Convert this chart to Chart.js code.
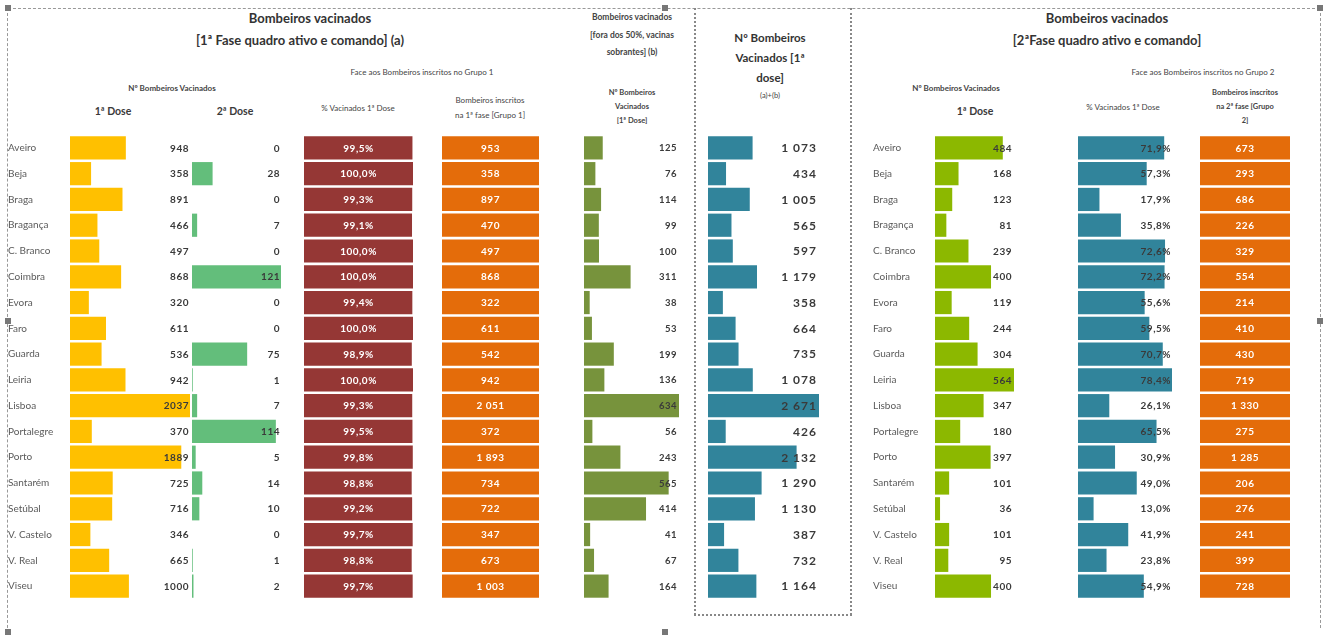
<!DOCTYPE html>
<html>
<head>
<meta charset="utf-8">
<script src="https://cdn.jsdelivr.net/npm/chart.js@4/dist/chart.umd.min.js"></script>
<style>
  body { margin: 0; background: #fff; font-family: Lato, "Open Sans", sans-serif; color: #3a3a3a; }
  #wrap { position: relative; width: 1327px; height: 635px; overflow: hidden; }
  .t { position: absolute; white-space: nowrap; transform: translate(-50%, -50%); line-height: 1; }
  .b { font-weight: 700; }
  .h1 { font-size: 13px; font-weight: 700; color: #333; }
  .h2 { font-size: 11.5px; font-weight: 700; color: #333; }
  .s { font-size: 8px; color: #444; }
  .sb { font-size: 8px; font-weight: 700; color: #444; }
  canvas { position: absolute; }
  .dh { position: absolute; height: 0; border-top: 1px dashed #999; }
  .dv { position: absolute; width: 0; border-left: 1px dashed #999; }
  .dv2 { position: absolute; width: 0; border-left: 2px dotted #888; }
  .dh2 { position: absolute; height: 0; border-top: 2px dotted #888; }
  .hd { position: absolute; width: 6px; height: 6px; background: #777; }
</style>
</head>
<body>
<div id="wrap">
  <!-- borders -->
  <div class="dh" style="left:8px;top:8px;width:1312px"></div>
  <div class="dv" style="left:7px;top:8px;height:625px"></div>
  <div class="dv" style="left:1320px;top:8px;height:620px"></div>
  <div class="dv2" style="left:694px;top:8px;height:607px"></div>
  <div class="dv2" style="left:850px;top:8px;height:607px"></div>
  <div class="dh2" style="left:694px;top:614px;width:158px"></div>
  <div class="hd" style="left:5px;top:5px"></div>
  <div class="hd" style="left:662px;top:5px"></div>
  <div class="hd" style="left:1317px;top:5px"></div>
  <div class="hd" style="left:5px;top:318px"></div>
  <div class="hd" style="left:1317px;top:318px"></div>
  <div class="hd" style="left:662px;top:629px"></div>
  <div class="hd" style="left:5px;top:629px"></div>

  <!-- headers fase 1 -->
  <div class="t h1" style="left:310px;top:18px">Bombeiros vacinados</div>
  <div class="t h1" style="left:300px;top:40px">[1ª Fase quadro ativo e comando] (a)</div>
  <div class="t s" style="left:422px;top:72px">Face aos Bombeiros inscritos no Grupo 1</div>
  <div class="t sb" style="left:172px;top:88px">Nº Bombeiros Vacinados</div>
  <div class="t b" style="left:113px;top:111px;font-size:10.5px">1ª Dose</div>
  <div class="t b" style="left:235px;top:111px;font-size:10.5px">2ª Dose</div>
  <div class="t s" style="left:358px;top:108px">% Vacinados 1ª Dose</div>
  <div class="t s" style="left:490px;top:100px">Bombeiros inscritos</div>
  <div class="t s" style="left:490px;top:115px">na 1ª fase [Grupo 1]</div>

  <!-- headers (b) -->
  <div class="t sb" style="left:632px;top:17px;font-size:8.5px">Bombeiros vacinados</div>
  <div class="t sb" style="left:632px;top:35px;font-size:8.5px">[fora dos 50%, vacinas</div>
  <div class="t sb" style="left:632px;top:52px;font-size:8.5px">sobrantes] (b)</div>
  <div class="t sb" style="left:632px;top:93px;font-size:7.5px">Nº Bombeiros</div>
  <div class="t sb" style="left:632px;top:107px;font-size:7.5px">Vacinados</div>
  <div class="t sb" style="left:632px;top:121px;font-size:7.5px">[1ª Dose]</div>

  <!-- headers (a)+(b) -->
  <div class="t h2" style="left:770px;top:38px">Nº Bombeiros</div>
  <div class="t h2" style="left:770px;top:58px">Vacinados [1ª</div>
  <div class="t h2" style="left:770px;top:78px">dose]</div>
  <div class="t s" style="left:770px;top:96px;font-size:7.5px">(a)+(b)</div>

  <!-- headers fase 2 -->
  <div class="t h1" style="left:1107px;top:18px">Bombeiros vacinados</div>
  <div class="t h1" style="left:1107px;top:40px">[2ªFase quadro ativo e comando]</div>
  <div class="t s" style="left:1203px;top:72px">Face aos Bombeiros inscritos no Grupo 2</div>
  <div class="t sb" style="left:956px;top:88px">Nº Bombeiros Vacinados</div>
  <div class="t b" style="left:975px;top:111px;font-size:10.5px">1ª Dose</div>
  <div class="t s" style="left:1123px;top:107px">% Vacinados 1ª Dose</div>
  <div class="t sb" style="left:1245px;top:93px;font-size:7.5px">Bombeiros inscritos</div>
  <div class="t sb" style="left:1245px;top:107px;font-size:7.5px">na 2ª fase [Grupo</div>
  <div class="t sb" style="left:1245px;top:121px;font-size:7.5px">2]</div>

  <canvas id="c1"></canvas>
  <canvas id="c2"></canvas>
  <canvas id="c3"></canvas>
  <canvas id="c4"></canvas>
  <canvas id="c5"></canvas>
  <canvas id="c6"></canvas>
  <canvas id="c7"></canvas>
  <canvas id="c8"></canvas>
  <canvas id="c9"></canvas>
</div>

<script>
// dados
const distritos = ['Aveiro', 'Beja', 'Braga', 'Bragança', 'C. Branco', 'Coimbra', 'Evora', 'Faro', 'Guarda',
  'Leiria', 'Lisboa', 'Portalegre', 'Porto', 'Santarém', 'Setúbal', 'V. Castelo', 'V. Real', 'Viseu'];

// 1ª fase (a)
const dose1Fase1 = [948, 358, 891, 466, 497, 868, 320, 611, 536, 942, 2037, 370, 1889, 725, 716, 346, 665, 1000];
const dose2Fase1 = [0, 28, 0, 7, 0, 121, 0, 0, 75, 1, 7, 114, 5, 14, 10, 0, 1, 2];
const pctFase1 = [99.5, 100.0, 99.3, 99.1, 100.0, 100.0, 99.4, 100.0, 98.9, 100.0, 99.3, 99.5, 99.8, 98.8, 99.2, 99.7, 98.8, 99.7];
const inscritosG1 = [953, 358, 897, 470, 497, 868, 322, 611, 542, 942, 2051, 372, 1893, 734, 722, 347, 673, 1003];

// vacinas sobrantes (b)
const sobrantes = [125, 76, 114, 99, 100, 311, 38, 53, 199, 136, 634, 56, 243, 565, 414, 41, 67, 164];

// (a)+(b)
const totalAB = [1073, 434, 1005, 565, 597, 1179, 358, 664, 735, 1078, 2671, 426, 2132, 1290, 1130, 387, 732, 1164];

// 2ª fase
const dose1Fase2 = [484, 168, 123, 81, 239, 400, 119, 244, 304, 564, 347, 180, 397, 101, 36, 101, 95, 400];
const pctFase2 = [71.9, 57.3, 17.9, 35.8, 72.6, 72.2, 55.6, 59.5, 70.7, 78.4, 26.1, 65.5, 30.9, 49.0, 13.0, 41.9, 23.8, 54.9];
const inscritosG2 = [673, 293, 686, 226, 329, 554, 214, 410, 430, 719, 1330, 275, 1285, 206, 276, 241, 399, 728];

const sep = v => String(v).replace(/\B(?=(\d{3})+(?!\d))/g, ' ');
const plain = v => String(v);
const pct = v => v.toFixed(1).replace('.', ',') + '%';

const cellLabels = {
  id: 'cellLabels',
  afterDatasetsDraw(chart, args, o) {
    if (!o.values) return;
    const { ctx, chartArea } = chart;
    const meta = chart.getDatasetMeta(0);
    ctx.save();
    ctx.font = o.font;
    ctx.fillStyle = o.color;
    ctx.textBaseline = 'middle';
    if ('letterSpacing' in ctx) ctx.letterSpacing = o.spacing || '0px';
    meta.data.forEach((bar, i) => {
      let x;
      if (o.align === 'center') {
        ctx.textAlign = 'center';
        x = (chartArea.left + chartArea.right) / 2;
      } else {
        ctx.textAlign = 'right';
        x = chartArea.right - (o.pad || 1);
      }
      ctx.fillText(o.format(o.values[i]), x, bar.y + 0.5);
    });
    ctx.restore();
  }
};
Chart.register(cellLabels);

const TOP = 135, HEIGHT = 464;

function coluna(id, left, width, data, max, cor, labels, withNames) {
  const cv = document.getElementById(id);
  cv.width = width; cv.height = HEIGHT;
  cv.style.left = left + 'px'; cv.style.top = TOP + 'px';
  cv.style.width = width + 'px'; cv.style.height = HEIGHT + 'px';
  return new Chart(cv.getContext('2d'), {
    type: 'bar',
    data: {
      labels: distritos,
      datasets: [{
        data: data,
        backgroundColor: cor,
        borderWidth: 0,
        barPercentage: 0.9,
        categoryPercentage: 1
      }]
    },
    options: {
      indexAxis: 'y',
      responsive: false,
      animation: false,
      devicePixelRatio: 1,
      layout: { padding: 0 },
      plugins: {
        legend: { display: false },
        tooltip: { enabled: false },
        cellLabels: labels
      },
      scales: {
        x: { display: false, min: 0, max: max },
        y: withNames ? {
          display: true,
          grid: { display: false },
          border: { display: false },
          ticks: { color: '#5a5a5a', font: { family: 'Lato', size: 10 }, crossAlign: 'far', padding: 0 },
          afterFit: s => { s.width = 62; s.paddingTop = 0; s.paddingBottom = 0; }
        } : { display: false }
      }
    }
  });
}

const numFont = 'bold 10px Lato';
const dark = '#3a3a3a';

coluna('c1', 8, 182, dose1Fase1, Math.max(...dose1Fase1), '#FFC000',
  { values: dose1Fase1, format: plain, font: numFont, color: dark, spacing: '0.5px' }, true);
coluna('c2', 192, 89, dose2Fase1, Math.max(...dose2Fase1), '#63BE7B',
  { values: dose2Fase1, format: plain, font: numFont, color: dark, spacing: '0.5px' }, false);
coluna('c3', 304, 109, pctFase1, 100, '#953735',
  { values: pctFase1, format: pct, font: numFont, color: '#fff', align: 'center', spacing: '0.5px' }, false);
coluna('c4', 442, 97, inscritosG1.map(() => 1), 1, '#E46C0A',
  { values: inscritosG1, format: sep, font: numFont, color: '#fff', align: 'center', spacing: '0.5px' }, false);
coluna('c5', 584, 95, sobrantes, Math.max(...sobrantes), '#77933C',
  { values: sobrantes, format: plain, font: 'bold 9.5px Lato', color: dark, spacing: '0.5px', pad: 2 }, false);
coluna('c6', 708, 111, totalAB, Math.max(...totalAB), '#31849B',
  { values: totalAB, format: sep, font: 'bold 12px Lato', color: dark, spacing: '1px', pad: 2 }, false);
coluna('c7', 873, 141, dose1Fase2, Math.max(...dose1Fase2), '#8CB800',
  { values: dose1Fase2, format: plain, font: numFont, color: dark, spacing: '0.5px', pad: 2 }, true);
coluna('c8', 1078, 94, pctFase2, Math.max(...pctFase2), '#31849B',
  { values: pctFase2, format: pct, font: numFont, color: dark, spacing: '0.5px', pad: 1 }, false);
coluna('c9', 1200, 90, inscritosG2.map(() => 1), 1, '#E46C0A',
  { values: inscritosG2, format: sep, font: numFont, color: '#fff', align: 'center', spacing: '0.5px' }, false);
</script>
</body>
</html>
